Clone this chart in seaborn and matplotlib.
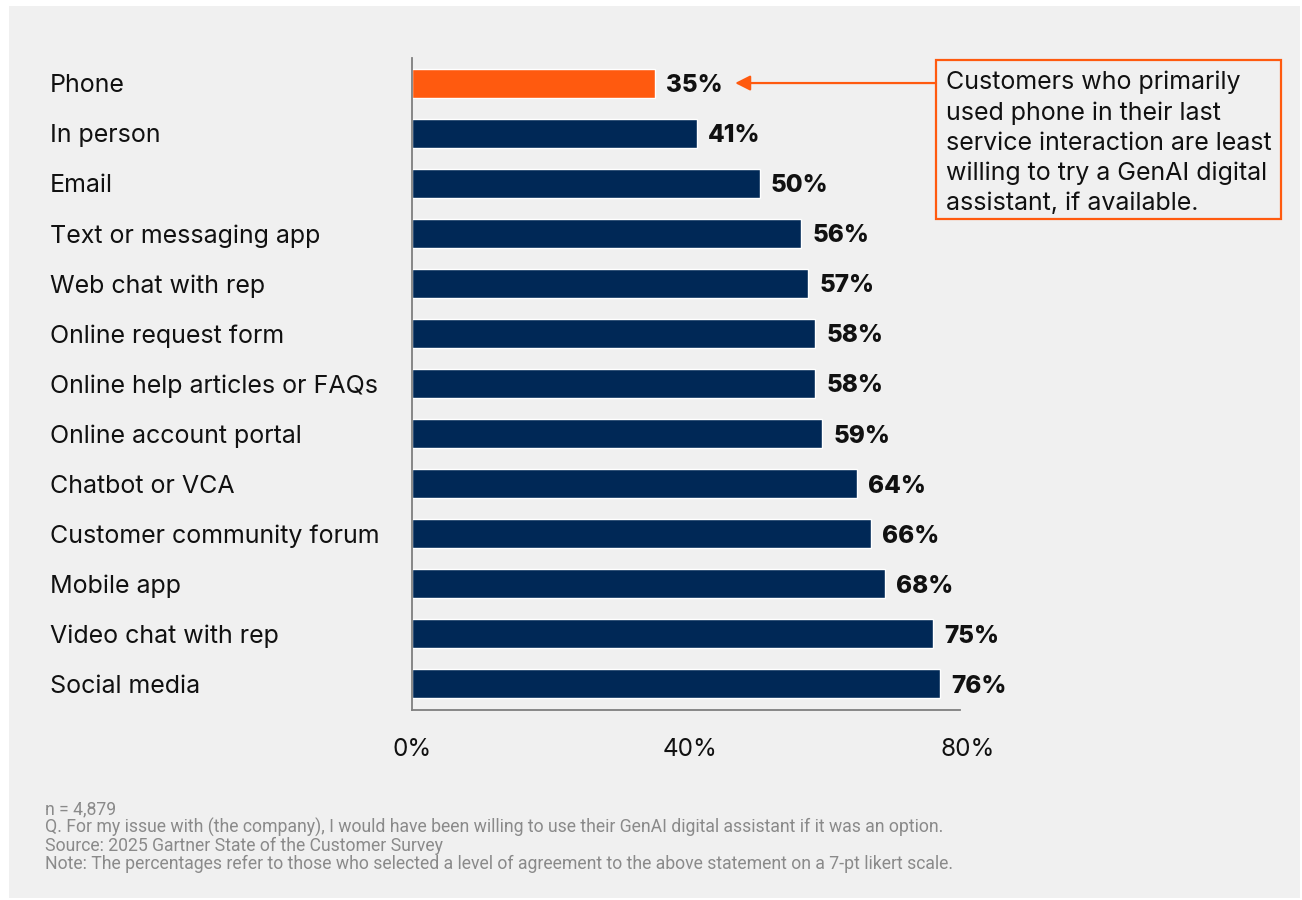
import matplotlib
matplotlib.use("Agg")
import matplotlib.pyplot as plt
from matplotlib.patches import Rectangle
from matplotlib.transforms import blended_transform_factory
import seaborn as sns
import pandas as pd

channels = [
    "Phone", "In person", "Email", "Text or messaging app", "Web chat with rep",
    "Online request form", "Online help articles or FAQs", "Online account portal",
    "Chatbot or VCA", "Customer community forum", "Mobile app",
    "Video chat with rep", "Social media",
]
willing_pct = [35, 41, 50, 56, 57, 58, 58, 59, 64, 66, 68, 75, 76]
highlight = "Phone"
x_ticks = [0, 40, 80]
x_tick_labels = ["0%", "40%", "80%"]
callout_text = ("Customers who primarily\nused phone in their last\n"
                "service interaction are least\nwilling to try a GenAI digital\n"
                "assistant, if available.")
footnotes = [
    "n = 4,879",
    "Q. For my issue with (the company), I would have been willing to use their GenAI digital assistant if it was an option.",
    "Source: 2025 Gartner State of the Customer Survey",
    "Note: The percentages refer to those who selected a level of agreement to the above statement on a 7-pt likert scale.",
]

NAVY = "#002856"
ORANGE = "#FF5A0F"
PANEL = "#F0F0F0"
TEXT = "#111111"
FONT = ["Inter", "DejaVu Sans"]

sns.set_theme(style="white")
plt.rcParams["font.family"] = FONT

df = pd.DataFrame({"channel": channels, "pct": willing_pct})
palette = {c: (ORANGE if c == highlight else NAVY) for c in channels}

W, H = 1302, 900
fig = plt.figure(figsize=(W / 100, H / 100), dpi=100)
fig.patch.set_facecolor("white")
fig.add_artist(Rectangle((9 / W, 2 / H), (W - 11) / W, (H - 8) / H,
                         transform=fig.transFigure, facecolor=PANEL,
                         edgecolor="none", zorder=-10))

ax = fig.add_axes([412 / W, 1 - 710 / H, 556 / W, (710 - 58) / H])
ax.set_facecolor("none")

sns.barplot(data=df, x="pct", y="channel", hue="channel", palette=palette,
            order=channels, legend=False, width=0.58, ax=ax,
            edgecolor="white", linewidth=1.0, saturation=1)

ax.set_xlim(0, 80)
ax.set_ylim(len(channels) - 1 + 0.52, -0.5)
ax.set_xticks(x_ticks)
ax.set_xticklabels(x_tick_labels, fontsize=17.5, color=TEXT)
ax.tick_params(axis="x", length=0, pad=20)
ax.tick_params(axis="y", length=0)
ax.set_yticks(range(len(channels)))
ax.set_yticklabels([])
ax.set_xlabel("")
ax.set_ylabel("")

for side in ["top", "right"]:
    ax.spines[side].set_visible(False)
for side in ["left", "bottom"]:
    ax.spines[side].set_color("#7F7F7F")
    ax.spines[side].set_linewidth(1.3)
ax.spines["bottom"].set_bounds(0, 78.9)

# category names, left-aligned at the panel margin
label_tf = blended_transform_factory(fig.transFigure, ax.transData)
for i, name in enumerate(channels):
    ax.text(50 / W, i, name, fontsize=18, color=TEXT, ha="left",
            va="center_baseline", transform=label_tf)

# value labels
for i, v in enumerate(willing_pct):
    ax.annotate(f"{v}%", xy=(v, i), xytext=(8, 0), textcoords="offset points",
                ha="left", va="center_baseline", fontsize=17.5,
                fontweight="heavy", color=TEXT)

# callout box with arrow to the highlighted bar
hi = channels.index(highlight)
box_left = 936 / W
ax.annotate("", xy=(46.5, hi), xycoords="data",
            xytext=(box_left, hi), textcoords=label_tf,
            arrowprops=dict(arrowstyle="-|>,head_length=0.75,head_width=0.38",
                            color=ORANGE, lw=1.6, shrinkA=0, shrinkB=0))
fig.text(946 / W, 1 - 71 / H, callout_text, fontsize=18, color=TEXT,
         ha="left", va="top", linespacing=1.37)
fig.add_artist(Rectangle((box_left, 1 - 219 / H), (1281 - 936) / W, (219 - 60) / H,
                         transform=fig.transFigure, facecolor="none",
                         edgecolor=ORANGE, linewidth=1.6))

# footnotes
for k, line in enumerate(footnotes):
    fig.text(45 / W, 1 - (807 + 18.3 * k) / H, line, fontsize=12.7,
             color="#8A8A8A", family=["Roboto", "DejaVu Sans"],
             ha="left", va="center_baseline")

fig.savefig("out.png", dpi=100, facecolor="white")
